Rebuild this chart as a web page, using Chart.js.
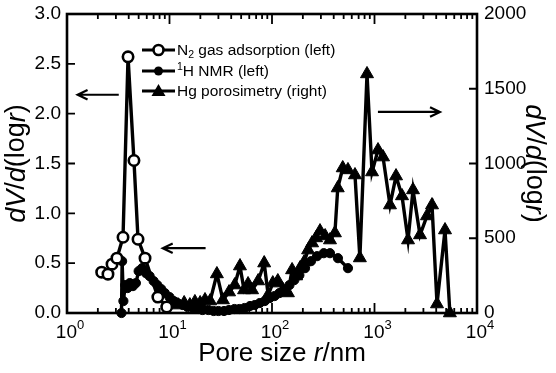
<!DOCTYPE html>
<html>
<head>
<meta charset="utf-8">
<script src="https://cdn.jsdelivr.net/npm/chart.js@4/dist/chart.umd.min.js"></script>
<style>
  html, body { margin: 0; padding: 0; background: #fff; }
  canvas { display: block; }
</style>
</head>
<body>
<canvas id="poreChart" width="556" height="373"></canvas>
<script>
// N2 gas adsorption (left axis)
const n2R = [2.18, 2.51, 2.75, 3.07, 3.52, 3.94, 4.5, 4.93, 5.77, 7.7, 9.4];
const n2V = [0.41, 0.39, 0.49, 0.55, 0.76, 2.57, 1.53, 0.74, 0.55, 0.16, 0.06];

// 1H NMR (left axis)
const nmrR = [3.40, 3.45, 3.55, 3.7, 3.9, 4.1, 4.4, 4.7, 5.0, 5.4, 5.9, 6.4, 7.0, 7.6, 8.3, 9.0, 10, 11, 12,
  13.5, 15, 17, 19, 21, 24, 27, 30, 34, 38, 43, 48, 54, 61, 68, 76, 85, 95, 106, 118, 132, 148, 165,
  185, 210, 240, 275, 320, 368, 440, 551];
const nmrV = [0.0, 0.52, 0.12, 0.28, 0.25, 0.3, 0.27, 0.3, 0.42, 0.45, 0.4, 0.37, 0.32, 0.28, 0.24, 0.2, 0.16, 0.12, 0.1,
  0.08, 0.06, 0.05, 0.04, 0.03, 0.03, 0.02, 0.02, 0.02, 0.03, 0.04, 0.04, 0.05, 0.07, 0.08, 0.1, 0.12, 0.15, 0.17, 0.2, 0.23, 0.28, 0.33,
  0.38, 0.45, 0.52, 0.57, 0.6, 0.6, 0.55, 0.45];

// Hg porosimetry (right axis)
const hgR = [12.1, 13.9, 15.8, 17.7, 19.9, 22.2, 24.9, 29.0, 33.2, 38.1, 43.3, 48.7, 53.4, 58.4, 63.9, 73.3, 83.9, 91.8,
  101.8, 114, 128, 143, 157, 172, 188, 206, 225, 246, 269, 294, 330, 368, 411, 438, 490, 551, 645, 720, 845,
  946, 1082, 1211, 1416, 1622, 1855, 2124, 2375, 2780, 3251, 3640, 4073, 4875, 5440];
const hgV = [53, 67, 53, 74, 67, 87, 80, 261, 87, 140, 187, 314, 154, 194, 154, 214, 334, 120,
  200, 214, 154, 134, 288, 247, 301, 341, 421, 468, 502, 548, 515, 488, 535, 836, 970, 957, 923, 368, 1599,
  943, 1090, 1043, 722, 916, 783, 488, 823, 522, 649, 722, 60, 555, 0];

const leftTicks = [0, 0.5, 1, 1.5, 2, 2.5, 3];
const rightTicks = [0, 500, 1000, 1500, 2000];
const decades = [0, 1, 2, 3, 4];

const pts = (xs, ys) => xs.map((v, i) => ({ x: v, y: ys[i] }));

const FONT = '"Liberation Sans", Arial, sans-serif';
const f = (size, style) => `${style || ''} ${size}px ${FONT}`;

// draws a run of text pieces with their own font and vertical shift
function richText(ctx, parts, x, y, align) {
  let w = 0;
  parts.forEach(p => { ctx.font = p.font; w += ctx.measureText(p.t).width; });
  let cx = align === 'center' ? x - w / 2 : align === 'right' ? x - w : x;
  parts.forEach(p => {
    ctx.font = p.font;
    ctx.textAlign = 'left';
    ctx.fillText(p.t, cx, y + (p.dy || 0));
    cx += ctx.measureText(p.t).width;
  });
}

function arrow(ctx, x1, y1, x2, y2) {
  const ang = Math.atan2(y2 - y1, x2 - x1);
  const hl = 11, hw = 0.45;
  ctx.beginPath();
  ctx.moveTo(x1, y1); ctx.lineTo(x2, y2);
  ctx.moveTo(x2 - hl * Math.cos(ang - hw), y2 - hl * Math.sin(ang - hw));
  ctx.lineTo(x2, y2);
  ctx.lineTo(x2 - hl * Math.cos(ang + hw), y2 - hl * Math.sin(ang + hw));
  ctx.stroke();
}

const dvTitle = size => [
  { t: 'dV', font: f(size, 'italic') },
  { t: '/', font: f(size) },
  { t: 'd', font: f(size, 'italic') },
  { t: '(log', font: f(size) },
  { t: 'r', font: f(size, 'italic') },
  { t: ')', font: f(size) }
];

// frame and inward ticks, under the data
const frame = {
  id: 'frame',
  beforeDatasetsDraw(chart) {
    const { ctx, chartArea: a, scales: { x, y, y1 } } = chart;
    ctx.save();
    ctx.strokeStyle = '#000';
    ctx.lineCap = 'butt';
    ctx.lineWidth = 1.8;
    ctx.beginPath();
    for (let d = 0; d < 4; d++) {
      for (let m = 1; m < 10; m++) {
        const px = x.getPixelForValue(m * Math.pow(10, d));
        const len = m === 1 ? 10 : 5;
        ctx.moveTo(px, a.bottom); ctx.lineTo(px, a.bottom - len);
        ctx.moveTo(px, a.top); ctx.lineTo(px, a.top + len);
      }
    }
    leftTicks.forEach(v => {
      const py = y.getPixelForValue(v);
      ctx.moveTo(a.left, py); ctx.lineTo(a.left + 8, py);
    });
    rightTicks.forEach(v => {
      const py = y1.getPixelForValue(v);
      ctx.moveTo(a.right, py); ctx.lineTo(a.right - 8, py);
    });
    ctx.stroke();
    ctx.lineWidth = 2.6;
    ctx.strokeRect(a.left, a.top, a.right - a.left, a.bottom - a.top);
    ctx.restore();
  },
  afterDraw(chart) {
    const { ctx, chartArea: a, scales: { x, y, y1 } } = chart;
    ctx.save();
    ctx.fillStyle = '#000';
    ctx.strokeStyle = '#000';
    ctx.textBaseline = 'middle';

    // tick labels
    ctx.font = f(19);
    ctx.textAlign = 'right';
    leftTicks.forEach(v => ctx.fillText(v.toFixed(1), a.left - 6, y.getPixelForValue(v)));
    ctx.textAlign = 'left';
    rightTicks.forEach(v => ctx.fillText(String(v), a.right + 7, y1.getPixelForValue(v)));
    decades.forEach(d => {
      richText(ctx, [
        { t: '10', font: f(19) },
        { t: String(d), font: f(13), dy: -8 }
      ], x.getPixelForValue(Math.pow(10, d)) + 3, a.bottom + 20, 'center');
    });

    // axis titles
    richText(ctx, [
      { t: 'Pore size ', font: f(26) },
      { t: 'r', font: f(26, 'italic') },
      { t: '/nm', font: f(26) }
    ], 282, 354, 'center');

    const midY = (a.top + a.bottom) / 2;
    ctx.save();
    ctx.translate(17, midY);
    ctx.rotate(-Math.PI / 2);
    richText(ctx, dvTitle(27), 0, 0, 'center');
    ctx.restore();

    ctx.save();
    ctx.translate(534, midY);
    ctx.rotate(Math.PI / 2);
    richText(ctx, dvTitle(27), 0, 0, 'center');
    ctx.restore();

    // arrows pointing to each series' axis
    ctx.lineWidth = 2.2;
    arrow(ctx, x.getPixelForValue(3.2), y.getPixelForValue(2.19), x.getPixelForValue(1.27), y.getPixelForValue(2.19));
    arrow(ctx, x.getPixelForValue(22.5), y.getPixelForValue(0.65), x.getPixelForValue(8.6), y.getPixelForValue(0.65));
    arrow(ctx, x.getPixelForValue(1080), y1.getPixelForValue(1345), x.getPixelForValue(4350), y1.getPixelForValue(1345));

    // legend
    const lx = 142, lw = 33, tx = 177;
    const rows = [
      { yy: 50, style: 'open', parts: [
        { t: 'N', font: f(15.5) }, { t: '2', font: f(10.5), dy: 4 },
        { t: ' gas adsorption (left)', font: f(15.5) }] },
      { yy: 71, style: 'dot', parts: [
        { t: '1', font: f(10.5), dy: -5 }, { t: 'H NMR (left)', font: f(15.5) }] },
      { yy: 91, style: 'tri', parts: [
        { t: 'Hg porosimetry (right)', font: f(15.5) }] }
    ];
    rows.forEach(r => {
      ctx.lineWidth = 3.2;
      ctx.beginPath();
      ctx.moveTo(lx, r.yy); ctx.lineTo(lx + lw, r.yy);
      ctx.stroke();
      const cx = lx + lw / 2;
      ctx.beginPath();
      if (r.style === 'open') {
        ctx.arc(cx, r.yy, 5, 0, Math.PI * 2);
        ctx.fillStyle = '#fff'; ctx.fill();
        ctx.lineWidth = 2.6; ctx.stroke();
      } else if (r.style === 'dot') {
        ctx.arc(cx, r.yy, 4.5, 0, Math.PI * 2);
        ctx.fillStyle = '#000'; ctx.fill();
      } else {
        ctx.moveTo(cx, r.yy - 7); ctx.lineTo(cx + 7, r.yy + 5); ctx.lineTo(cx - 7, r.yy + 5);
        ctx.closePath();
        ctx.fillStyle = '#000'; ctx.fill();
      }
      ctx.fillStyle = '#000';
      richText(ctx, r.parts, tx, r.yy + 1, 'left');
    });
    ctx.restore();
  }
};

new Chart(document.getElementById('poreChart'), {
  type: 'scatter',
  data: {
    datasets: [
      {
        label: 'N2 gas adsorption (left)',
        data: pts(n2R, n2V),
        yAxisID: 'y',
        showLine: true,
        borderColor: '#000',
        borderWidth: 3.4,
        pointRadius: 5.2,
        pointBorderWidth: 2.6,
        pointBackgroundColor: '#fff',
        pointBorderColor: '#000',
        clip: false
      },
      {
        label: 'Hg porosimetry (right)',
        data: pts(hgR, hgV),
        yAxisID: 'y1',
        showLine: true,
        borderColor: '#000',
        borderWidth: 3.4,
        pointStyle: 'triangle',
        pointRadius: 7.5,
        pointBorderWidth: 1,
        pointBackgroundColor: '#000',
        pointBorderColor: '#000',
        clip: false
      },
      {
        label: '1H NMR (left)',
        data: pts(nmrR, nmrV),
        yAxisID: 'y',
        showLine: true,
        borderColor: '#000',
        borderWidth: 3.4,
        pointRadius: 4.6,
        pointBorderWidth: 1,
        pointBackgroundColor: '#000',
        pointBorderColor: '#000',
        clip: false
      }
    ]
  },
  options: {
    responsive: false,
    animation: false,
    layout: { padding: { left: 67, right: 79, top: 14, bottom: 60 } },
    plugins: { legend: { display: false }, tooltip: { enabled: false } },
    scales: {
      x: { type: 'logarithmic', min: 1, max: 10000, display: false },
      y: { type: 'linear', position: 'left', min: 0, max: 3, display: false },
      y1: { type: 'linear', position: 'right', min: 0, max: 2000, display: false }
    }
  },
  plugins: [frame]
});
</script>
</body>
</html>
